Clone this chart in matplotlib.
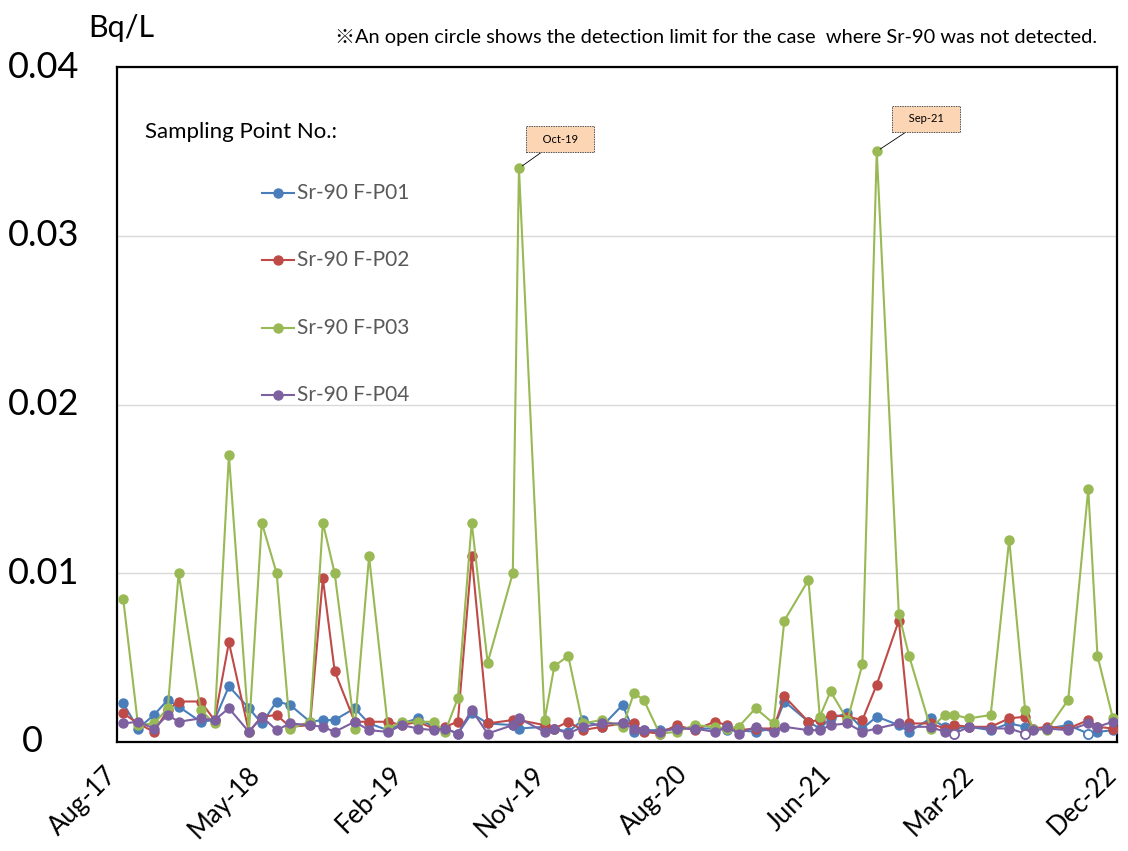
import numpy as np
import matplotlib
matplotlib.use('Agg')
import matplotlib.pyplot as plt
import matplotlib.dates as mdates
import matplotlib.transforms as mtransforms
from matplotlib.lines import Line2D

# ---------------- data ----------------
dates = ['2017-08-27', '2017-09-25', '2017-10-26', '2017-11-22', '2017-12-13',
         '2018-01-25', '2018-02-21', '2018-03-21', '2018-04-29', '2018-05-24',
         '2018-06-22', '2018-07-18', '2018-08-26', '2018-09-20', '2018-10-13',
         '2018-11-21', '2018-12-19', '2019-01-25', '2019-02-21', '2019-03-24',
         '2019-04-24', '2019-05-16', '2019-06-10', '2019-07-07', '2019-08-07',
         '2019-09-25', '2019-10-07', '2019-11-26', '2019-12-15', '2020-01-11',
         '2020-02-08', '2020-03-16', '2020-04-26', '2020-05-18', '2020-06-06',
         '2020-07-07', '2020-08-09', '2020-09-13', '2020-10-22', '2020-11-16',
         '2020-12-08', '2021-01-10', '2021-02-14', '2021-03-07', '2021-04-23',
         '2021-05-15', '2021-06-05', '2021-07-08', '2021-08-06', '2021-09-03',
         '2021-10-16', '2021-11-05', '2021-12-17', '2022-01-13', '2022-02-01',
         '2022-03-02', '2022-04-13', '2022-05-19', '2022-06-19', '2022-07-05',
         '2022-08-01', '2022-09-11', '2022-10-20', '2022-11-07', '2022-12-07']

p01 = [0.0023, 0.0008, 0.0016, 0.0025, 0.0021,
       0.0012, 0.0013, 0.0033, 0.0020, 0.0011,
       0.0024, 0.0022, 0.0012, 0.0013, 0.0013,
       0.0020, 0.0011, 0.0007, 0.0011, 0.0014,
       0.0009, 0.0008, 0.0005, 0.0017, 0.0011,
       0.0010, 0.0008, 0.0009, 0.0008, 0.0006,
       0.0013, 0.0009, 0.0022, 0.0006, 0.0007,
       0.0007, 0.0008, 0.0008, 0.0008, 0.0007,
       0.0007, 0.0006, 0.0008, 0.0024, 0.0012,
       0.0008, 0.0014, 0.0017, 0.0008, 0.0015,
       0.0010, 0.0006, 0.0014, 0.0009, 0.0008,
       0.0009, 0.0007, 0.0011, 0.0009, 0.0008,
       0.0008, 0.0010, 0.0005, 0.0006, 0.0007]

p02 = [0.0017, 0.0011, 0.0006, 0.0019, 0.0024,
       0.0024, 0.0013, 0.0059, 0.0006, 0.0015,
       0.0016, 0.0009, 0.0010, 0.0097, 0.0042,
       0.0012, 0.0012, 0.0012, 0.0010, 0.0012,
       0.0008, 0.0009, 0.0012, 0.0110, 0.0011,
       0.0013, 0.0013, 0.0010, 0.0008, 0.0012,
       0.0007, 0.0009, 0.0011, 0.0011, 0.0006,
       0.0005, 0.0010, 0.0007, 0.0012, 0.0010,
       0.0007, 0.0008, 0.0008, 0.0027, 0.0012,
       0.0013, 0.0016, 0.0015, 0.0013, 0.0034,
       0.0072, 0.0011, 0.0011, 0.0008, 0.0010,
       0.0009, 0.0009, 0.0014, 0.0015, 0.0008,
       0.0009, 0.0008, 0.0013, 0.0009, 0.0008]

p03 = [0.0085, 0.0010, 0.0011, 0.0020, 0.0100,
       0.0019, 0.0011, 0.0170, 0.0006, 0.0130,
       0.0100, 0.0008, 0.0012, 0.0130, 0.0100,
       0.0008, 0.0110, 0.0008, 0.0012, 0.0012,
       0.0012, 0.0006, 0.0026, 0.0130, 0.0047,
       0.0100, 0.0340, 0.0013, 0.0045, 0.0051,
       0.0011, 0.0013, 0.0009, 0.0029, 0.0025,
       0.0005, 0.0006, 0.0010, 0.0009, 0.0008,
       0.0009, 0.0020, 0.0011, 0.0072, 0.0096,
       0.0015, 0.0030, 0.0013, 0.0046, 0.0350,
       0.0076, 0.0051, 0.0008, 0.0016, 0.0016,
       0.0014, 0.0016, 0.0120, 0.0019, 0.0008,
       0.0007, 0.0025, 0.0150, 0.0051, 0.0014]

p04 = [0.0011, 0.0012, 0.0008, 0.0016, 0.0012,
       0.0014, 0.0013, 0.0020, 0.0006, 0.0015,
       0.0007, 0.0011, 0.0010, 0.0009, 0.0006,
       0.0012, 0.0007, 0.0006, 0.0010, 0.0008,
       0.0007, 0.0008, 0.0005, 0.0019, 0.0005,
       0.0010, 0.0014, 0.0006, 0.0008, 0.0005,
       0.0009, 0.0011, 0.0011, 0.0008, 0.0007,
       0.0006, 0.0008, 0.0008, 0.0006, 0.0009,
       0.0005, 0.0009, 0.0006, 0.0009, 0.0007,
       0.0007, 0.0010, 0.0011, 0.0006, 0.0008,
       0.0011, 0.0009, 0.0009, 0.0006, 0.0005,
       0.0009, 0.0008, 0.0008, 0.0005, 0.0007,
       0.0008, 0.0007, 0.0011, 0.0009, 0.0012]

# not detected (open circle = detection limit)
nd_p01 = ['2022-10-20']
nd_p04 = ['2022-02-01', '2022-06-19']

series_names = ['Sr-90 F-P01', 'Sr-90 F-P02', 'Sr-90 F-P03', 'Sr-90 F-P04']
series_colors = ['#4a7ebb', '#be4b48', '#98b954', '#7d60a0']

x_tick_labels = ['Aug-17', 'May-18', 'Feb-19', 'Nov-19', 'Aug-20', 'Jun-21', 'Mar-22', 'Dec-22']
y_ticks = [0, 0.01, 0.02, 0.03, 0.04]
y_tick_labels = ['0', '0.01', '0.02', '0.03', '0.04']

callouts = [('2019-10-07', 0.0340, 'Oct-19'), ('2021-09-03', 0.0350, 'Sep-21')]

x_start, x_end = '2017-08-15', '2022-12-15'

# ---------------- figure ----------------
FONT = ['Lato', 'DejaVu Sans']
plt.rcParams['font.family'] = FONT

W, H = 1128, 851
fig = plt.figure(figsize=(W / 100, H / 100), dpi=100)
ax = fig.add_axes([117 / W, 1 - 742 / H, 1000 / W, 675 / H])

x = np.array(dates, dtype='datetime64[D]')
all_vals = [p01, p02, p03, p04]
nd_lists = [nd_p01, [], [], nd_p04]

for vals, col, nd in zip(all_vals, series_colors, nd_lists):
    v = np.array(vals, dtype=float)
    ax.plot(x, v, color=col, lw=1.5, marker='o', ms=6.5, mec=col, mfc=col, zorder=3)
    if nd:
        idx = [dates.index(d) for d in nd]
        ax.plot(x[idx], v[idx], ls='none', marker='o', ms=6.5, mec=col, mfc='white',
                mew=1.2, zorder=4)

xs = mdates.date2num(np.datetime64(x_start))
xe = mdates.date2num(np.datetime64(x_end))
ax.set_xlim(xs, xe)
ax.set_ylim(0, 0.04)
xticks = np.linspace(xs, xe, len(x_tick_labels))
ax.set_xticks(xticks)
ax.set_xticklabels([])
ax.set_yticks(y_ticks)
ax.set_yticklabels([])
ax.tick_params(axis='both', length=0)
ax.grid(axis='y', color='#d9d9d9', lw=1.0, zorder=0)
for s in ax.spines.values():
    s.set_color('black')
    s.set_linewidth(1.6)

# x tick labels (rotated, Excel-style placement)
xtrans = mtransforms.blended_transform_factory(ax.transData, ax.transAxes) + \
    mtransforms.ScaledTranslation(-13 / 100, -20 / 100, fig.dpi_scale_trans)
for xv, lab in zip(xticks, x_tick_labels):
    ax.text(xv, 0, lab, transform=xtrans, rotation=45, rotation_mode='anchor',
            ha='right', va='top', fontsize=18.5, clip_on=False)

# y tick labels (Excel-style placement)
ytrans = mtransforms.blended_transform_factory(fig.transFigure, ax.transData)
for val, lab in zip(y_ticks, y_tick_labels):
    xl = 22 if lab == '0' else 8
    fig.text(xl / W, val, lab, transform=ytrans, fontsize=26, ha='left', va='center')

# callouts
for d, v, lab in callouts:
    off = (10.5, 17.0) if lab == 'Oct-19' else (16.5, 19.5)
    ax.annotate('   ' + lab + '   ', xy=(mdates.date2num(np.datetime64(d)), v),
                xytext=off, textcoords='offset points',
                fontsize=8, ha='left', va='bottom',
                bbox=dict(boxstyle='square,pad=0.7', fc='#fcd5b5', ec='#505050', lw=0.7,
                          ls=(0, (1.5, 1))),
                arrowprops=dict(arrowstyle='-', color='black', lw=0.6, shrinkA=0, shrinkB=3),
                zorder=5)

# texts
fig.text(88 / W, 1 - 28 / H, 'Bq/L', fontsize=22, va='center', ha='left')
fig.text(1097 / W, 1 - 37 / H,
         '※An open circle shows the detection limit for the case  where Sr-90 was not detected.',
         fontsize=14.4, ha='right', va='center', family=['Lato', 'Noto Sans CJK JP', 'DejaVu Sans'])
fig.text(145 / W, 1 - 132 / H, 'Sampling Point No.:', fontsize=16, va='center', ha='left')

leg_y = [193, 260, 328, 395]
for name, col, yp in zip(series_names, series_colors, leg_y):
    yf = 1 - yp / H
    fig.add_artist(Line2D([262 / W, 294 / W], [yf, yf], color=col, lw=1.5,
                          transform=fig.transFigure))
    fig.add_artist(Line2D([278 / W], [yf], color=col, marker='o', ms=6.5,
                          transform=fig.transFigure))
    fig.text(297 / W, yf, name, fontsize=15, color='#595959', va='center', ha='left')

fig.savefig('out.png', dpi=100)
